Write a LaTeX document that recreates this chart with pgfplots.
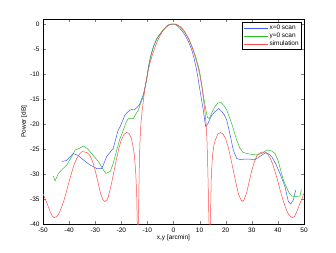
\documentclass[border=0pt]{standalone}
\usepackage{fontspec}
\setmainfont{Liberation Sans}
\usepackage{pgfplots}
\pgfplotsset{compat=1.18}
\definecolor{mblue}{rgb}{0.25,0.35,1}
\definecolor{mgreen}{rgb}{0.15,0.75,0.15}
\definecolor{mred}{rgb}{1,0.3,0.3}
\begin{document}
\begin{tikzpicture}
\begin{axis}[
  scale only axis, width=261bp, height=205bp,
  xmin=-50, xmax=50, ymin=-40, ymax=1,
  xtick={-50,-40,...,50}, ytick={-40,-35,...,0},
  tick align=inside, tick pos=both,
  major tick length=3bp,
  font=\fontsize{6.5}{7}\selectfont,
  /pgf/number format/assume math mode=true,
  xlabel={x,y [arcmin]}, ylabel={Power [dB]},
  xlabel style={yshift=4bp}, ylabel style={yshift=-4bp},
  legend style={at={(0.99,0.985)}, anchor=north east, font=\fontsize{6.5}{7}\selectfont,
    draw=black, inner sep=1.5pt, row sep=0pt, nodes={inner sep=1pt}},
  legend cell align=left,
  legend image code/.code={\draw[#1] (0bp,0bp) -- (24bp,0bp);},
  every axis plot/.append style={line width=0.5pt},
]
\addplot[mblue] coordinates {
(-42.8,-27.5)(-41,-27.3)(-39.5,-26.5)(-38.4,-25.9)(-36.5,-26.3)(-34.5,-27.2)(-32,-28.2)(-29.4,-28.9)(-27.5,-28.9)(-26.5,-27.7)(-25.6,-26.5)(-23.1,-24.9)(-21.2,-21.2)(-20.5,-20.6)(-18.6,-18.2)(-17,-17.3)(-16,-17.1)(-15.1,-17.2)(-14,-16.7)(-13.1,-16.2)(-11.6,-14.2)(-10.3,-11.2)(-9.6,-8.5)(-8.7,-6.3)(-7.7,-4.5)(-6.4,-2.9)(-5,-1.9)(-3.9,-1.2)(-2,-0.2)(-0.5,0)(0.5,0)(1.5,-0.4)(3,-1.2)(4.4,-2.2)(5.8,-3.6)(7,-5.2)(7.8,-6.7)(8.6,-8.5)(9.3,-10.5)(9.9,-12.5)(10.7,-15)(11.4,-17.2)(12.3,-20.5)(13.2,-19.9)(14.5,-18.4)(15.8,-17.6)(17.2,-16.9)(18.5,-17.5)(19.5,-18.2)(20.4,-19.2)(21.7,-22.2)(22.9,-25.2)(24.2,-26.9)(25.5,-27.1)(28,-27)(31.2,-27.1)(33.1,-26.5)(35.4,-25.7)(36.5,-26)(37.6,-26.5)(39.2,-28)(40.8,-29.9)(42.7,-32.5)(44,-35.5)(44.9,-36)(45.9,-35.2)(46.4,-34)(46.9,-33.2)
};
\addlegendentry{x=0 scan}
\addplot[mgreen] coordinates {
(-46,-30.4)(-45.4,-31.4)(-44.1,-29.9)(-42.5,-29)(-40.9,-28.2)(-39.3,-26.8)(-37.7,-25.2)(-36.2,-24.9)(-34.6,-24.4)(-33,-24.9)(-31.4,-25.9)(-28.8,-27.5)(-27.2,-28.9)(-25.9,-29.9)(-24.3,-29.5)(-23.3,-28.2)(-22.4,-26.5)(-20.5,-22.9)(-19,-20.9)(-18.2,-19.7)(-17.3,-18.9)(-15.4,-18.9)(-13.5,-17.2)(-11.6,-14.5)(-10.6,-12)(-9.6,-8.8)(-8.7,-6.5)(-7.7,-4.6)(-6.4,-3)(-5,-1.9)(-3.9,-1.1)(-2,-0.2)(-0.5,0)(0.5,0)(1.5,-0.2)(3,-0.9)(4.4,-1.7)(5.8,-2.9)(7,-4.4)(8.5,-6.5)(9.9,-9.2)(10.7,-11.7)(11.4,-14.2)(12.2,-16.6)(13,-18.7)(13.7,-18.9)(14.8,-17.6)(15.9,-16.5)(17,-15.8)(18.2,-15.7)(19.3,-16.3)(20.4,-17.2)(21.7,-19)(22.9,-20.9)(24.2,-23.2)(25.5,-24.9)(26.7,-25.7)(29,-26)(31.9,-26.2)(33.8,-25.9)(35.7,-25.2)(37.6,-25.4)(38.9,-25.9)(40.2,-27.5)(41.2,-29.5)(42.1,-31.2)(44,-33.5)(45.3,-34.4)(46.5,-34.5)(48.5,-34.4)(49,-33.1)
};
\addlegendentry{y=0 scan}
\addplot[mred] coordinates {
(-50,-33.9)(-49,-35.2)(-48,-36.5)(-47,-37.8)(-46.5,-38.4)(-45.7,-38.7)(-45,-38.6)(-44,-38)(-43,-36.8)(-42,-35.3)(-41,-33.5)(-40,-31.5)(-39,-29.7)(-38,-28)(-37,-26.8)(-36,-26)(-35,-25.5)(-34,-25.6)(-33,-25.8)(-32,-26.3)(-31,-27.5)(-30,-29.3)(-29,-31.5)(-28,-33.8)(-27,-35.2)(-26.3,-35.5)(-25.5,-35.2)(-25,-34.6)(-24,-32.5)(-23,-30)(-22,-27.4)(-21,-25)(-20,-23.2)(-19,-22.1)(-18,-21.7)(-17,-21.9)(-16.2,-22.8)(-15.5,-24.5)(-15,-26.2)(-14.5,-29.5)(-14.1,-34)(-13.8,-42)(-13.6,-45)(-13.4,-38)(-13.1,-28)(-12.8,-23)(-12.5,-20)(-12,-17.3)(-11,-13)(-10,-10)(-9,-7.8)(-8,-6)(-7,-4.5)(-6,-3.2)(-5,-2.2)(-4,-1.3)(-3,-0.7)(-2,-0.3)(-1,-0.05)(0,0)(1,-0.05)(2,-0.3)(3,-0.7)(4,-1.3)(5,-2.2)(6,-3.2)(7,-4.5)(8,-6)(9,-7.8)(10,-10)(11,-13)(12,-17.3)(12.5,-20)(12.8,-23)(13.1,-28)(13.4,-35)(13.7,-42)(14,-45)(14.2,-38)(14.5,-30)(15,-26)(15.5,-24.2)(16,-23.2)(17,-22)(18,-21.7)(19,-22)(20,-23)(21,-24.7)(22,-27)(23,-29.5)(24,-32)(25,-34.2)(26,-35.3)(26.5,-35.4)(27,-35.2)(28,-33.8)(29,-31.5)(30,-29.3)(31,-27.5)(32,-26.3)(33,-25.8)(34,-25.6)(35,-25.6)(36,-26)(37,-26.8)(38,-28)(39,-29.7)(40,-31.5)(41,-33.5)(42,-35.3)(43,-36.8)(44,-38)(45,-38.6)(45.7,-38.7)(46.5,-38.4)(47,-37.8)(48,-36.5)(49,-35.2)(50,-33.9)
};
\addlegendentry{simulation}
\end{axis}
\path (current axis.south west) ++(-43bp,-29bp) rectangle ++(336bp,253bp);
\end{tikzpicture}
\end{document}
